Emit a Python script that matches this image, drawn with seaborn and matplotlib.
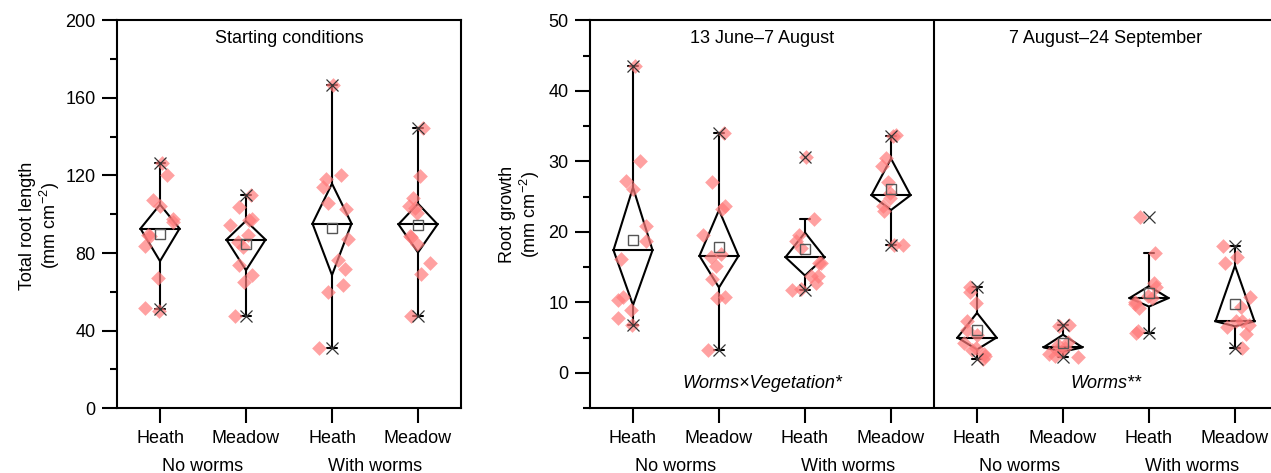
import numpy as np
import pandas as pd
import matplotlib
matplotlib.use("Agg")
import matplotlib.pyplot as plt
import matplotlib.transforms as mtransforms
import seaborn as sns

# ---------------- data ----------------
veg_labels = ["Heath", "Meadow", "Heath", "Meadow"]
worm_labels = ["No worms", "With worms"]

# Left panel: starting conditions (total root length, mm cm-2)
start_points = [
    [126.6, 120.1, 107.2, 104.1, 97.4, 96.0, 89.5, 88.7, 83.5, 67.2, 51.4, 50.0],
    [110.0, 103.8, 97.4, 96.9, 94.7, 89.5, 85.7, 83.2, 73.7, 68.6, 64.8, 47.6],
    [166.5, 120.5, 118.0, 114.1, 106.0, 102.9, 87.1, 76.6, 72.0, 63.4, 60.0, 30.8],
    [144.5, 119.8, 108.4, 104.1, 103.0, 100.9, 88.8, 88.0, 84.5, 74.6, 69.4, 47.6],
]
start_q1 = [75.8, 71.1, 68.6, 80.3]
start_med = [92.6, 86.9, 95.2, 94.8]
start_q3 = [105.0, 96.6, 115.8, 105.5]
start_mean = [90.0, 84.4, 92.9, 94.3]
start_wlo = [50.9, 47.6, 30.8, 47.6]
start_whi = [126.6, 110.0, 166.5, 144.5]
start_min = [50.9, 47.6, 30.8, 47.6]
start_max = [126.6, 110.0, 166.5, 144.5]

# Right panel: root growth (mm cm-2), 13 June-7 Aug (4 groups) then 7 Aug-24 Sep (4 groups)
growth_points = [
    [43.6, 30.1, 27.2, 26.1, 20.9, 18.7, 16.1, 10.8, 10.3, 8.9, 7.8, 6.8],
    [34.0, 27.1, 23.6, 23.2, 19.5, 16.8, 16.5, 15.1, 13.3, 10.7, 10.6, 3.2],
    [30.6, 21.8, 19.6, 18.7, 17.7, 15.6, 15.6, 13.7, 13.7, 12.7, 11.9, 11.8],
    [33.7, 33.6, 30.5, 29.3, 27.1, 24.8, 23.6, 23.0, 25.5, 18.2, 18.2],
    [12.2, 11.4, 9.9, 7.4, 6.1, 5.4, 4.2, 3.5, 3.3, 2.7, 2.4, 1.9],
    [6.8, 6.6, 4.4, 4.0, 3.5, 3.2, 3.0, 2.7, 2.4, 2.3],
    [22.1, 17.0, 12.8, 12.2, 10.9, 10.6, 10.1, 9.8, 9.2, 6.0, 5.6],
    [18.0, 16.5, 15.6, 10.8, 9.4, 7.3, 7.3, 6.5, 6.8, 5.5, 3.5],
]
growth_q1 = [9.6, 12.1, 13.8, 23.1, 3.3, 3.0, 9.4, 6.6]
growth_med = [17.4, 16.6, 16.4, 25.2, 5.0, 3.6, 10.6, 7.3]
growth_q3 = [26.3, 23.1, 19.9, 30.4, 8.5, 5.4, 12.3, 15.2]
growth_mean = [18.9, 17.8, 17.6, 26.1, 6.1, 4.2, 11.3, 9.7]
growth_wlo = [6.8, 3.2, 11.8, 18.2, 1.9, 2.3, 5.6, 3.5]
growth_whi = [43.6, 34.0, 21.8, 33.6, 12.2, 6.8, 17.0, 18.0]
growth_min = [6.8, 3.2, 11.8, 18.2, 1.9, 2.3, 5.6, 3.5]
growth_max = [43.6, 34.0, 30.6, 33.6, 12.2, 6.8, 22.1, 18.0]

period_titles = ["13 June\u20137 August", "7 August\u201324 September"]
period_notes = ["Worms\u00d7Vegetation*", "Worms**"]

# ---------------- style ----------------
sns.set_theme(style="ticks")
plt.rcParams["font.family"] = ["Liberation Sans", "DejaVu Sans"]
plt.rcParams["mathtext.fontset"] = "custom"
plt.rcParams["mathtext.rm"] = "Liberation Sans"
plt.rcParams["mathtext.it"] = "Liberation Sans:italic"
for key in ["text.color", "axes.labelcolor", "xtick.color", "ytick.color",
            "xtick.labelcolor", "ytick.labelcolor", "axes.edgecolor"]:
    plt.rcParams[key] = "black"
FS = 13
LW = 1.5
PT_COLOR = "#ff7a7a"

fig = plt.figure(figsize=(12.71, 4.73), dpi=100)
ax1 = fig.add_axes([117 / 1271, 65 / 473, 344 / 1271, 387.5 / 473])
ax2 = fig.add_axes([590 / 1271, 65 / 473, 688 / 1271, 387.5 / 473])


def long_df(points):
    rows = []
    for i, vals in enumerate(points):
        for v in vals:
            rows.append({"group": f"g{i}", "value": v})
    return pd.DataFrame(rows), [f"g{i}" for i in range(len(points))]


def draw_panel(ax, points, q1, med, q3, mean, wlo, whi, vmin, vmax):
    df, order = long_df(points)
    hw = 0.227
    cw = 0.06
    for i in range(len(points)):
        # diamond
        ax.plot([i, i + hw, i, i - hw, i], [q3[i], med[i], q1[i], med[i], q3[i]],
                color="black", lw=LW, zorder=2, solid_joinstyle="miter")
        ax.plot([i - hw, i + hw], [med[i], med[i]], color="black", lw=LW, zorder=2)
        # whiskers
        ax.plot([i, i], [q3[i], whi[i]], color="black", lw=LW, zorder=2)
        ax.plot([i, i], [wlo[i], q1[i]], color="black", lw=LW, zorder=2)
        ax.plot([i - cw, i + cw], [whi[i], whi[i]], color="black", lw=LW, zorder=2)
        ax.plot([i - cw, i + cw], [wlo[i], wlo[i]], color="black", lw=LW, zorder=2)
    np.random.seed(3)
    sns.stripplot(data=df, x="group", y="value", order=order, jitter=0.19,
                  marker="D", size=7.5, color=PT_COLOR, alpha=0.7, linewidth=0,
                  zorder=3, ax=ax)
    xs = np.arange(len(points))
    ax.plot(xs, mean, ls="none", marker="s", ms=7, mfc="none", mec="#555555",
            mew=1.0, zorder=4)
    ax.plot(xs, vmin, ls="none", marker="x", ms=9, color="#333333", mew=0.9, zorder=5)
    ax.plot(xs, vmax, ls="none", marker="x", ms=9, color="#333333", mew=0.9, zorder=5)
    ax.set_xlim(-0.5, len(points) - 0.5)
    ax.set_xlabel("")
    ax.set_xticks(xs)
    ax.set_xticklabels((veg_labels * 2)[:len(points)], fontsize=FS)
    for sp in ax.spines.values():
        sp.set_linewidth(LW)
        sp.set_color("black")
    ax.tick_params(axis="both", which="major", length=10.5, width=LW, labelsize=FS,
                   color="black", labelcolor="black", pad=5)
    ax.tick_params(axis="y", which="minor", length=5, width=LW, color="black")
    ax.tick_params(axis="x", which="minor", length=0)
    trans = mtransforms.blended_transform_factory(ax.transData, ax.transAxes)
    for k in range(len(points) // 2):
        ax.text(2 * k + 0.5, -0.152, worm_labels[k % 2], transform=trans,
                ha="center", va="center", fontsize=FS, color="black")
    return trans


# Left panel
draw_panel(ax1, start_points, start_q1, start_med, start_q3, start_mean,
           start_wlo, start_whi, start_min, start_max)
ax1.set_ylim(0, 200)
ax1.set_yticks([0, 40, 80, 120, 160, 200])
ax1.set_yticks(np.arange(20, 200, 40), minor=True)
ax1.set_ylabel("Total root length\n(mm cm$^{-2}$)", fontsize=FS, linespacing=1.1,
               color="black")
ax1.yaxis.set_label_coords(-55 / 344, 0.47)
ax1.text(0.5, 0.953, "Starting conditions", transform=ax1.transAxes,
         ha="center", va="center", fontsize=FS, color="black")

# Right panel
trans2 = draw_panel(ax2, growth_points, growth_q1, growth_med, growth_q3, growth_mean,
                    growth_wlo, growth_whi, growth_min, growth_max)
ax2.set_ylim(-5, 50)
ax2.set_yticks([0, 10, 20, 30, 40, 50])
ax2.set_yticks([-5, 5, 15, 25, 35, 45], minor=True)
ax2.set_ylabel("Root growth\n(mm cm$^{-2}$)", fontsize=FS, linespacing=1.1,
               color="black")
ax2.yaxis.set_label_coords(-48 / 688, 0.5)
ax2.axvline(3.5, color="black", lw=LW, zorder=1)
for k in range(2):
    ax2.text(4 * k + 1.5, 0.953, period_titles[k], transform=trans2,
             ha="center", va="center", fontsize=FS, color="black")
    ax2.text(4 * k + 1.5, 0.062, period_notes[k], transform=trans2,
             ha="center", va="center", fontsize=FS, style="italic", color="black")

fig.savefig("out.png", dpi=100)
